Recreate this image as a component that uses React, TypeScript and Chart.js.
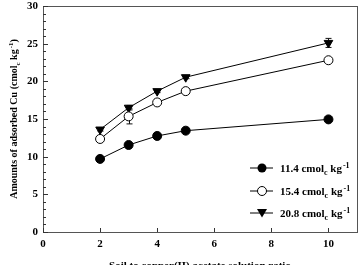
import React, { useEffect, useRef } from "react";
import { Chart, registerables } from "chart.js";
Chart.register(...registerables);

const ratios = [2, 3, 4, 5, 10];
const series114 = [9.7, 11.55, 12.75, 13.45, 14.95];
const series154 = [12.35, 15.35, 17.2, 18.7, 22.8];
const series208 = [13.6, 16.5, 18.7, 20.55, 25.1];
const err114 = [0, 0, 0, 0, 0];
const err154 = [0.2, 1.0, 0.2, 0.3, 0.2];
const err208 = [0.2, 0.3, 0.2, 0.2, 0.6];
const legendLabels = ["11.4", "15.4", "20.8"];
const xTicks = [0, 2, 4, 6, 8, 10];
const yTicks = [0, 5, 10, 15, 20, 25, 30];

const FONT = "'Liberation Serif', 'Times New Roman', serif";

function drawUnitText(ctx: CanvasRenderingContext2D, x: number, y: number, main: string, size: number) {
  ctx.textAlign = "left";
  ctx.textBaseline = "alphabetic";
  const big = `bold ${size}px ${FONT}`;
  const small = `bold ${Math.round(size * 0.7)}px ${FONT}`;
  ctx.font = big;
  const t1 = main + "cmol";
  ctx.fillText(t1, x, y);
  x += ctx.measureText(t1).width;
  ctx.font = small;
  ctx.fillText("c", x, y + size * 0.3);
  x += ctx.measureText("c").width;
  ctx.font = big;
  ctx.fillText(" kg", x, y);
  x += ctx.measureText(" kg").width;
  ctx.font = small;
  ctx.fillText("-1", x + 1, y - size * 0.4);
  x += ctx.measureText("-1").width + 1;
  return x;
}

function measureUnit(ctx: CanvasRenderingContext2D, main: string, size: number) {
  const big = `bold ${size}px ${FONT}`;
  const small = `bold ${Math.round(size * 0.7)}px ${FONT}`;
  ctx.font = big;
  let w = ctx.measureText(main + "cmol").width + ctx.measureText(" kg").width;
  ctx.font = small;
  w += ctx.measureText("c").width + ctx.measureText("-1").width + 1;
  return w;
}

const decor = {
  id: "decor",
  beforeDatasetsDraw(chart: any) {
    const ctx: CanvasRenderingContext2D = chart.ctx;
    const xs = chart.scales.x;
    const ys = chart.scales.y;
    const errs = [err114, err154, err208];
    ctx.save();
    ctx.strokeStyle = "#111";
    ctx.lineWidth = 1;
    chart.data.datasets.forEach((ds: any, i: number) => {
      ds.data.forEach((pt: any, j: number) => {
        const e = errs[i][j];
        if (!e) return;
        const v = pt.y;
        const px = Math.round(xs.getPixelForValue(pt.x)) + 0.5;
        const y1 = ys.getPixelForValue(v - e);
        const y2 = ys.getPixelForValue(v + e);
        ctx.beginPath();
        ctx.moveTo(px, y1);
        ctx.lineTo(px, y2);
        ctx.moveTo(px - 3, y1);
        ctx.lineTo(px + 3, y1);
        ctx.moveTo(px - 3, y2);
        ctx.lineTo(px + 3, y2);
        ctx.stroke();
      });
    });
    ctx.restore();
  },
  afterDatasetsDraw(chart: any) {
    const ctx: CanvasRenderingContext2D = chart.ctx;
    const { left, right, top, bottom } = chart.chartArea;
    const xs = chart.scales.x;
    const ys = chart.scales.y;
    ctx.save();
    // frame
    ctx.strokeStyle = "#555";
    ctx.lineWidth = 1;
    ctx.strokeRect(Math.round(left) + 0.5, Math.round(top) + 0.5, Math.round(right - left), Math.round(bottom - top));
    ctx.strokeStyle = "#333";
    for (let v = 0; v <= 30; v++) {
      const py = Math.round(ys.getPixelForValue(v)) + 0.5;
      const len = v % 5 === 0 ? 5 : 3;
      ctx.beginPath();
      ctx.moveTo(left, py);
      ctx.lineTo(left + len, py);
      ctx.stroke();
    }
    for (const v of xTicks) {
      const px = Math.round(xs.getPixelForValue(v)) + 0.5;
      ctx.beginPath();
      ctx.moveTo(px, bottom);
      ctx.lineTo(px, bottom - 4);
      ctx.stroke();
    }
    // legend
    const rows = [168, 191, 213];
    rows.forEach((ry, i) => {
      ctx.strokeStyle = "#000";
      ctx.lineWidth = 1;
      ctx.beginPath();
      ctx.moveTo(250, ry);
      ctx.lineTo(273, ry);
      ctx.stroke();
      ctx.fillStyle = "#000";
      ctx.beginPath();
      if (i === 0) {
        ctx.arc(262, ry, 4.5, 0, Math.PI * 2);
        ctx.fill();
      } else if (i === 1) {
        ctx.arc(262, ry, 4.5, 0, Math.PI * 2);
        ctx.fillStyle = "#fff";
        ctx.fill();
        ctx.stroke();
      } else {
        ctx.moveTo(257, ry - 4);
        ctx.lineTo(267, ry - 4);
        ctx.lineTo(262, ry + 4.5);
        ctx.closePath();
        ctx.fill();
      }
      ctx.fillStyle = "#000";
      drawUnitText(ctx, 280, ry + 4, legendLabels[i] + " ", 11);
    });
    // y title
    ctx.save();
    ctx.translate(13, (top + bottom) / 2);
    ctx.rotate(-Math.PI / 2);
    ctx.fillStyle = "#000";
    const pre = "Amounts of adsorbed Cu (";
    const fs = 10;
    ctx.font = `bold ${fs}px ${FONT}`;
    const wPre = ctx.measureText(pre).width;
    const wUnit = measureUnit(ctx, "", fs);
    ctx.font = `bold ${fs}px ${FONT}`;
    const wPost = ctx.measureText(")").width;
    let sx = -(wPre + wUnit + wPost) / 2;
    ctx.textAlign = "left";
    ctx.textBaseline = "alphabetic";
    ctx.fillText(pre, sx, 4);
    sx += wPre;
    sx = drawUnitText(ctx, sx, 4, "", fs);
    ctx.font = `bold ${fs}px ${FONT}`;
    ctx.fillText(")", sx, 4);
    ctx.restore();
    // x title
    ctx.fillStyle = "#000";
    ctx.font = `bold 11px ${FONT}`;
    ctx.textAlign = "center";
    ctx.textBaseline = "top";
    ctx.fillText("Soil to copper(II) acetate solution ratio", (left + right) / 2, 261);
    ctx.restore();
  },
};

export default function App() {
  const ref = useRef<HTMLCanvasElement>(null);
  useEffect(() => {
    const mk = (data: number[], style: string, fill: string, rot = 0, r = 4.5) => ({
      data: data.map((v, i) => ({ x: ratios[i], y: v })),
      borderColor: "#000",
      borderWidth: 1,
      pointStyle: style,
      pointRotation: rot,
      pointRadius: r,
      pointBackgroundColor: fill,
      pointBorderColor: "#000",
      pointBorderWidth: 1,
      showLine: true,
      tension: 0,
    });
    const chart = new Chart(ref.current!, {
      type: "scatter",
      data: {
        datasets: [
          mk(series114, "circle", "#000"),
          mk(series154, "circle", "#fff"),
          mk(series208, "triangle", "#000", 180, 5),
        ] as any,
      },
      options: {
        animation: false,
        responsive: false,
        layout: { autoPadding: false, padding: { top: 6, right: 2, left: 0, bottom: 0 } },
        plugins: { legend: { display: false }, tooltip: { enabled: false } },
        scales: {
          x: {
            type: "linear",
            min: 0,
            max: 11,
            afterBuildTicks: (s: any) => {
              s.ticks = xTicks.map((v) => ({ value: v }));
            },
            afterFit: (s: any) => {
              s.height = 33;
              s.paddingLeft = 0;
              s.paddingRight = 0;
            },
            grid: { display: false, drawTicks: false, tickLength: 0 },
            border: { display: false },
            ticks: {
              color: "#000",
              font: { family: FONT, size: 11, weight: "bold" },
              padding: 6,
              maxRotation: 0,
            },
          },
          y: {
            type: "linear",
            min: 0,
            max: 30,
            afterBuildTicks: (s: any) => {
              s.ticks = yTicks.map((v) => ({ value: v }));
            },
            afterFit: (s: any) => {
              s.width = 43;
              s.paddingTop = 0;
              s.paddingBottom = 0;
            },
            grid: { display: false, drawTicks: false, tickLength: 0 },
            border: { display: false },
            ticks: {
              color: "#000",
              font: { family: FONT, size: 11, weight: "bold" },
              padding: 5,
            },
          },
        },
      },
      plugins: [decor],
    });
    return () => chart.destroy();
  }, []);
  return (
    <div style={{ position: "fixed", left: 0, top: 0, width: 359, height: 265, background: "#fff" }}>
      <canvas ref={ref} width={359} height={265} style={{ width: 359, height: 265 }} />
    </div>
  );
}
